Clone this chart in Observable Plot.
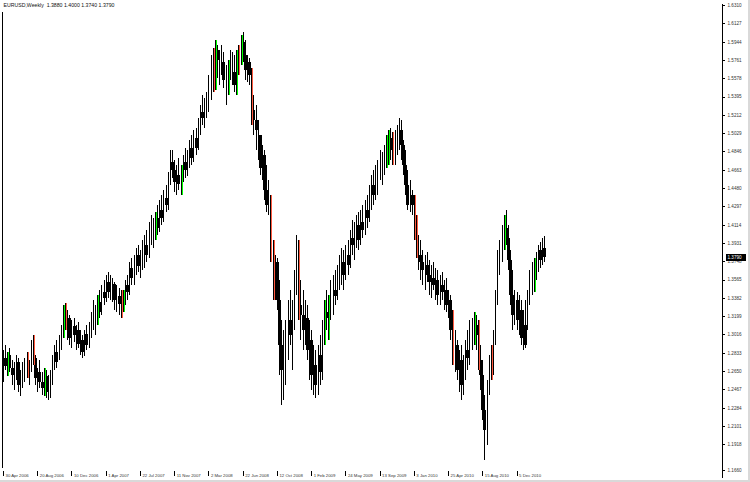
<!DOCTYPE html>
<html><head><meta charset="utf-8">
<script src="https://cdn.jsdelivr.net/npm/d3@7"></script>
<script src="https://cdn.jsdelivr.net/npm/@observablehq/plot@0.6"></script>
<style>
html,body{margin:0;padding:0;background:#fff;}
#wrap{position:relative;width:750px;height:482px;overflow:hidden;background:#fff;}
#edge{position:absolute;left:0;top:0;width:748px;height:480px;border-right:2px solid #d9d9d9;border-bottom:2px solid #d9d9d9;pointer-events:none;}
</style></head><body>
<div id="wrap"><div id="chart"></div><div id="edge"></div></div>
<script>
const symbol = "EURUSD,Weekly";
const firstWeek = "2006-04-30";
const firstOpen = 1.271;
const highs = [
1.286,1.291,1.284,1.288,1.276,1.274,1.281,1.278,1.266,1.274,
1.278,1.284,1.276,1.296,1.301,1.281,1.268,1.276,1.264,1.268,
1.266,1.261,1.266,1.281,1.291,1.296,1.301,1.311,1.331,1.333,
1.326,1.321,1.316,1.318,1.311,1.314,1.306,1.301,1.306,1.311,
1.314,1.324,1.336,1.331,1.341,1.346,1.351,1.356,1.361,1.364,
1.361,1.358,1.354,1.351,1.348,1.346,1.346,1.356,1.361,1.374,
1.378,1.381,1.388,1.391,1.386,1.396,1.401,1.406,1.414,1.421,
1.418,1.424,1.431,1.436,1.441,1.446,1.451,1.464,1.486,1.486,
1.476,1.471,1.478,1.471,1.481,1.488,1.486,1.496,1.501,1.506,
1.508,1.518,1.531,1.541,1.538,1.544,1.561,1.581,1.588,1.596,
1.591,1.586,1.591,1.584,1.571,1.576,1.586,1.584,1.581,1.586,
1.591,1.601,1.604,1.596,1.581,1.578,1.568,1.541,1.531,1.516,
1.501,1.491,1.486,1.471,1.456,1.441,1.396,1.381,1.378,1.356,
1.316,1.306,1.316,1.336,1.346,1.336,1.366,1.401,1.396,1.356,
1.346,1.336,1.331,1.316,1.306,1.291,1.286,1.291,1.301,1.316,
1.336,1.346,1.341,1.356,1.361,1.366,1.371,1.381,1.388,1.386,
1.391,1.396,1.406,1.416,1.414,1.421,1.424,1.426,1.431,1.436,
1.441,1.451,1.461,1.466,1.471,1.476,1.486,1.484,1.491,1.501,
1.506,1.508,1.504,1.506,1.511,1.518,1.516,1.496,1.486,1.466,
1.456,1.446,1.441,1.421,1.401,1.396,1.386,1.381,1.384,1.376,
1.371,1.374,1.368,1.366,1.361,1.364,1.356,1.358,1.346,1.341,
1.326,1.306,1.296,1.286,1.291,1.281,1.296,1.306,1.316,1.318,
1.324,1.321,1.316,1.291,1.276,1.241,1.256,1.281,1.291,1.306,
1.346,1.386,1.396,1.411,1.421,1.426,1.411,1.386,1.366,1.346,
1.344,1.341,1.336,1.326,1.336,1.346,1.366,1.374,1.378,1.384,
1.391,1.394,1.398,1.400];
const lows = [
1.254,1.266,1.260,1.264,1.251,1.246,1.256,1.244,1.240,1.248,
1.254,1.258,1.251,1.264,1.271,1.251,1.244,1.248,1.241,1.240,
1.238,1.236,1.238,1.251,1.266,1.268,1.276,1.286,1.298,1.306,
1.296,1.291,1.288,1.294,1.286,1.288,1.281,1.278,1.280,1.286,
1.288,1.298,1.306,1.301,1.311,1.318,1.321,1.331,1.334,1.338,
1.336,1.334,1.326,1.324,1.321,1.318,1.324,1.331,1.336,1.341,
1.351,1.351,1.361,1.364,1.358,1.366,1.368,1.374,1.378,1.391,
1.388,1.396,1.401,1.404,1.411,1.414,1.424,1.426,1.451,1.458,
1.444,1.441,1.446,1.441,1.454,1.458,1.460,1.468,1.471,1.474,
1.481,1.486,1.501,1.511,1.508,1.518,1.524,1.536,1.544,1.546,
1.558,1.551,1.561,1.548,1.531,1.541,1.556,1.551,1.544,1.541,
1.561,1.571,1.574,1.556,1.554,1.551,1.511,1.501,1.486,1.476,
1.461,1.456,1.436,1.424,1.421,1.374,1.336,1.336,1.326,1.261,
1.231,1.236,1.251,1.276,1.291,1.266,1.306,1.341,1.316,1.296,
1.286,1.291,1.276,1.256,1.246,1.241,1.238,1.241,1.251,1.256,
1.291,1.306,1.296,1.316,1.321,1.331,1.336,1.346,1.351,1.346,
1.356,1.361,1.368,1.381,1.376,1.388,1.386,1.391,1.398,1.401,
1.408,1.414,1.426,1.431,1.436,1.441,1.456,1.451,1.461,1.468,
1.471,1.476,1.471,1.471,1.481,1.486,1.476,1.461,1.441,1.426,
1.424,1.421,1.396,1.378,1.366,1.356,1.351,1.346,1.354,1.341,
1.338,1.346,1.336,1.331,1.331,1.336,1.326,1.324,1.318,1.296,
1.271,1.264,1.256,1.244,1.236,1.241,1.256,1.266,1.271,1.286,
1.291,1.286,1.266,1.246,1.216,1.176,1.191,1.241,1.256,1.261,
1.291,1.331,1.361,1.374,1.386,1.391,1.366,1.331,1.306,1.311,
1.306,1.301,1.291,1.286,1.288,1.306,1.331,1.341,1.344,1.356,
1.364,1.368,1.371,1.374];
const closes = [
1.278,1.270,1.281,1.268,1.261,1.266,1.274,1.251,1.258,1.264,
1.270,1.262,1.271,1.286,1.278,1.258,1.264,1.254,1.248,1.260,
1.244,1.251,1.256,1.276,1.284,1.274,1.294,1.306,1.324,1.310,
1.318,1.298,1.310,1.301,1.306,1.292,1.296,1.284,1.302,1.291,
1.308,1.318,1.314,1.326,1.334,1.324,1.344,1.338,1.354,1.344,
1.340,1.352,1.336,1.340,1.332,1.326,1.342,1.351,1.344,1.368,
1.358,1.374,1.381,1.370,1.378,1.374,1.391,1.381,1.404,1.400,
1.408,1.418,1.408,1.426,1.418,1.438,1.431,1.456,1.474,1.466,
1.454,1.461,1.452,1.464,1.474,1.466,1.478,1.488,1.478,1.498,
1.488,1.511,1.524,1.518,1.528,1.524,1.554,1.566,1.556,1.586,
1.576,1.578,1.574,1.556,1.558,1.566,1.568,1.564,1.551,1.574,
1.571,1.594,1.581,1.566,1.574,1.561,1.526,1.516,1.506,1.501,
1.468,1.481,1.446,1.431,1.441,1.386,1.341,1.374,1.336,1.291,
1.266,1.291,1.301,1.316,1.301,1.326,1.346,1.374,1.331,1.321,
1.306,1.318,1.286,1.296,1.261,1.271,1.251,1.281,1.264,1.306,
1.324,1.318,1.331,1.336,1.346,1.340,1.361,1.368,1.374,1.361,
1.381,1.371,1.398,1.391,1.404,1.411,1.396,1.414,1.406,1.426,
1.418,1.444,1.451,1.441,1.461,1.466,1.464,1.476,1.481,1.494,
1.498,1.486,1.481,1.496,1.501,1.506,1.491,1.471,1.451,1.431,
1.441,1.431,1.406,1.386,1.381,1.374,1.366,1.371,1.361,1.354,
1.358,1.351,1.356,1.341,1.351,1.344,1.346,1.331,1.336,1.306,
1.281,1.291,1.266,1.276,1.251,1.271,1.286,1.278,1.301,1.296,
1.311,1.301,1.276,1.261,1.226,1.206,1.246,1.271,1.266,1.296,
1.336,1.374,1.381,1.401,1.408,1.398,1.376,1.341,1.321,1.336,
1.316,1.326,1.298,1.311,1.291,1.336,1.356,1.351,1.368,1.374,
1.386,1.376,1.388,1.379];
const upSignals = [2,19,28,44,56,71,83,99,105,109,111,150,152,179,180,220,234,248];
const downSignals = [11,14,29,55,98,110,116,125,126,138,182,192,193,210,222,228];
const dateTickLabels = ["30 Apr 2006","20 Aug 2006","10 Dec 2006","1 Apr 2007","22 Jul 2007","11 Nov 2007","2 Mar 2008","22 Jun 2008","12 Oct 2008","1 Feb 2009","24 May 2009","13 Sep 2009","3 Jan 2010","25 Apr 2010","15 Aug 2010","5 Dec 2010"];
const priceTicks = [1.6310,1.6127,1.5944,1.5761,1.5578,1.5395,1.5212,1.5029,1.4846,1.4663,1.4480,1.4297,1.4114,1.3931,1.3748,1.3565,1.3382,1.3199,1.3016,1.2833,1.2650,1.2467,1.2284,1.2101,1.1918,1.1660];

const WEEK = 7 * 864e5;
const t0 = Date.parse(firstWeek + "T00:00:00Z");
const bars = closes.map((c, i) => ({
  date: new Date(t0 + i * WEEK),
  open: i ? closes[i - 1] : firstOpen,
  high: highs[i], low: lows[i], close: c,
  signal: upSignals.includes(i) ? "up" : downSignals.includes(i) ? "down" : null
}));
const last = bars[bars.length - 1];
const parseDay = d3.utcParse("%d %b %Y");
const dateTicks = dateTickLabels.map(s => ({date: parseDay(s), label: s}));
const xDomain = [new Date(t0 - 0.467 * WEEK), new Date(t0 + 336 * WEEK)];
const f4 = d => d.toFixed(4);
const title = `${symbol}  ${f4(last.open)} ${f4(last.high)} ${f4(last.low)} ${f4(last.close)}`;
const crisp = {shapeRendering: "crispEdges"};

const chart = Plot.plot({
  width: 750, height: 482,
  marginLeft: 2, marginRight: 28, marginTop: 2, marginBottom: 12,
  x: {type: "utc", domain: xDomain, axis: null},
  y: {domain: [1.166, 1.634], axis: null},
  style: {background: "#fff", fontFamily: "'Liberation Sans', Arial, sans-serif"},
  marks: [
    Plot.ruleX(bars, {x: "date", y1: "low", y2: "high", stroke: "#000", strokeWidth: 1, ...crisp}),
    Plot.ruleX(bars.filter(d => !d.signal && d.open - d.close >= 0.006), {x: "date", y1: "open", y2: "close", stroke: "#000", strokeWidth: 3, ...crisp}),
    Plot.ruleX(bars.filter(d => d.signal === "up"), {x: "date", y1: "low", y2: "high", stroke: "#00ff00", strokeWidth: 1, dx: 1, ...crisp}),
    Plot.ruleX(bars.filter(d => d.signal === "down"), {x: "date", y1: "low", y2: "high", stroke: "#ff5a40", strokeWidth: 1, dx: 1, ...crisp}),
    // chart borders
    Plot.ruleX([xDomain[0]], {insetTop: 10, insetBottom: 2, stroke: "#000", ...crisp}),
    Plot.ruleX([xDomain[1]], {dy: 2, stroke: "#000", ...crisp}),
    Plot.ruleX([xDomain[1]], {dy: 8, stroke: "#000", ...crisp}),
    // price scale
    Plot.ruleY(priceTicks, {insetLeft: 717, dx: 3, stroke: "#000", ...crisp}),
    Plot.text(priceTicks, {y: d => d, frameAnchor: "right", textAnchor: "start", dx: 5, text: f4, fontSize: 4.6, fill: "#333"}),
    Plot.ruleY([last.close], {insetLeft: 700, dx: 24, stroke: "#000", strokeWidth: 7, ...crisp}),
    Plot.text([last.close], {y: d => d, frameAnchor: "right", textAnchor: "start", dx: 5, text: f4, fontSize: 4.6, fill: "#fff"}),
    // time scale
    Plot.ruleX(dateTicks, {x: "date", insetTop: 463, dy: 6, stroke: "#000", ...crisp}),
    Plot.text(dateTicks, {x: "date", frameAnchor: "bottom", dy: 6, dx: 2, textAnchor: "start", text: "label", fontSize: 4.3, fill: "#333"}),
    // title
    Plot.text([title], {frameAnchor: "top-left", dx: 1, dy: 1, lineAnchor: "top", textAnchor: "start", fontSize: 5.2, fill: "#111"})
  ]
});
document.getElementById("chart").appendChild(chart);
</script>
</body></html>
